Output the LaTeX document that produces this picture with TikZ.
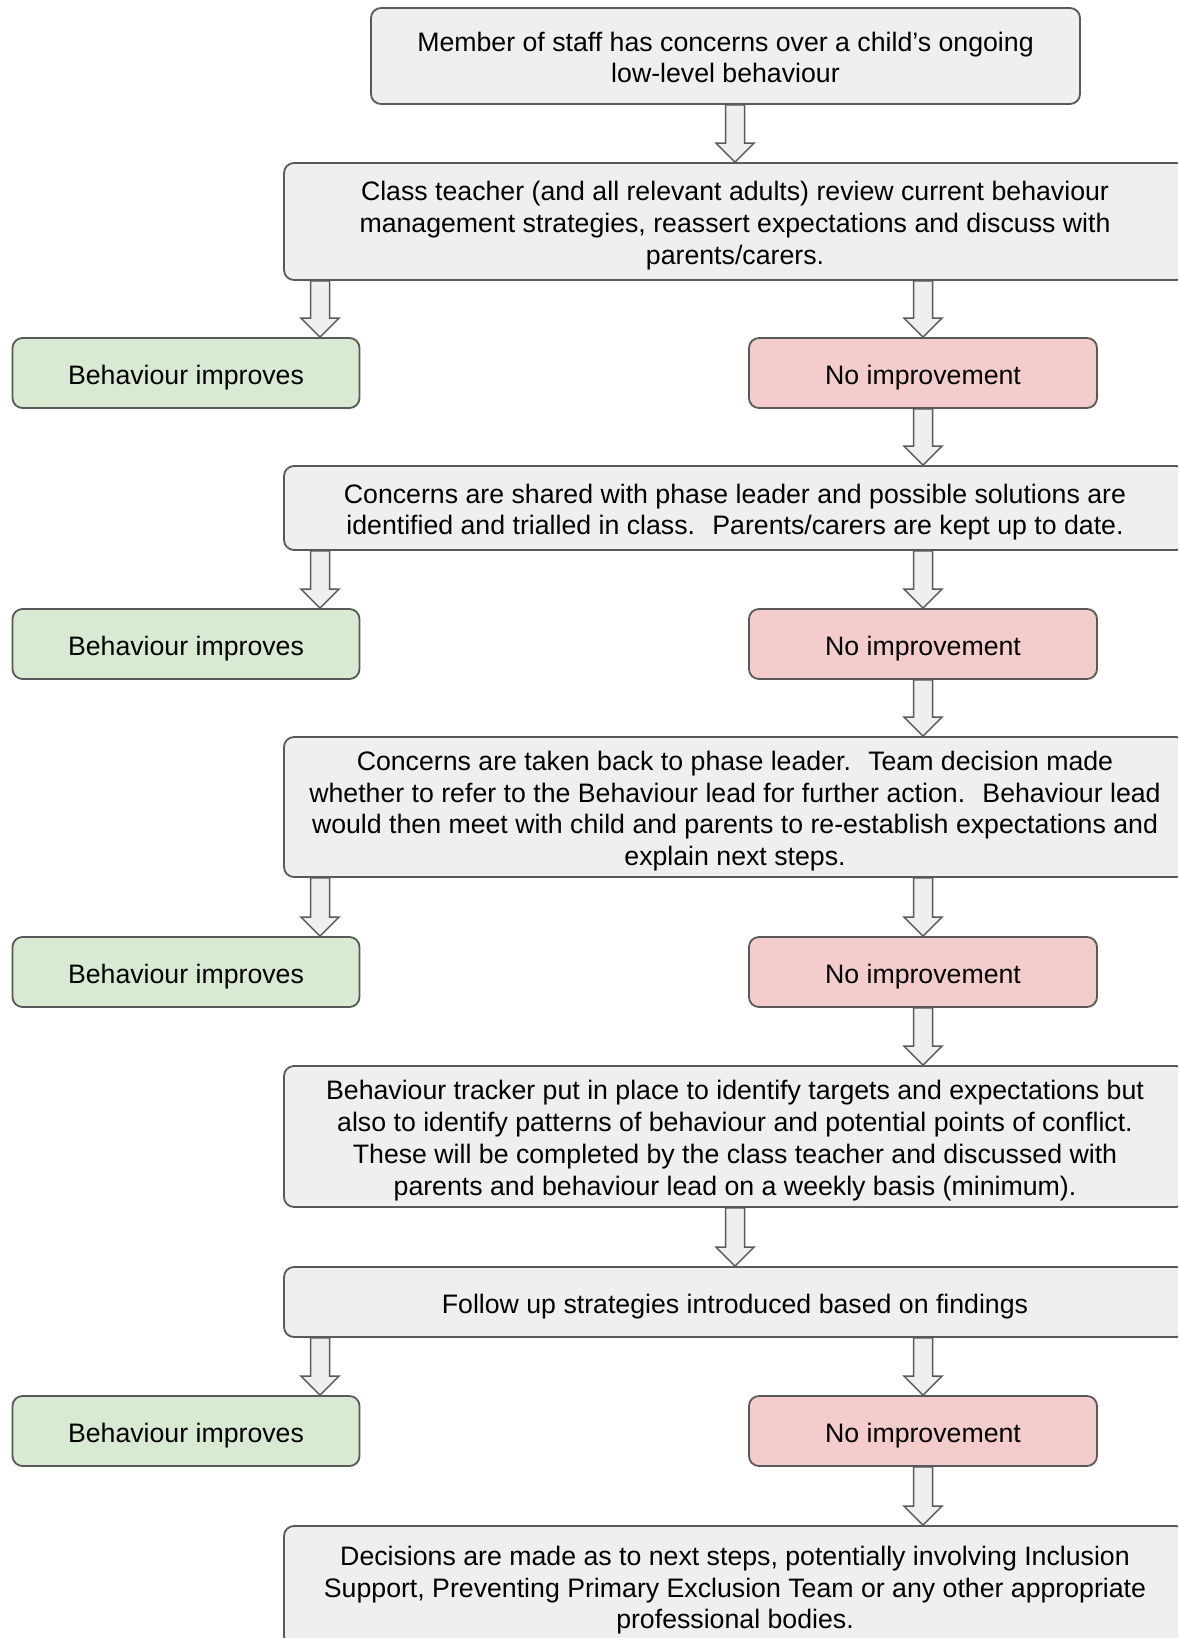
\documentclass[tikz,border=0pt]{standalone}
\usepackage{fontspec}
\setmainfont{Liberation Sans}
\usetikzlibrary{calc}
\definecolor{bd}{HTML}{595959}
\definecolor{grayfill}{HTML}{EFEFEF}
\definecolor{greenfill}{HTML}{D9EAD3}
\definecolor{redfill}{HTML}{F4CCCC}
\newcommand\boxfont{\fontsize{26.7}{31.8}\selectfont}
\newcommand\hs{\rule{0pt}{28pt}}
\tikzset{
  flowbox/.style={draw=bd, fill=grayfill, rounded corners=10pt, line width=1.8pt,
    align=center, inner sep=0pt, font=\boxfont, text=black,
    execute at begin node={\rule{0pt}{28pt}},
    execute at end node={\rule[-6pt]{0pt}{6pt}}},
  goodbox/.style={flowbox, fill=greenfill, minimum width=347pt, minimum height=70pt},
  badbox/.style={flowbox, fill=redfill, minimum width=348pt, minimum height=70pt},
  widebox/.style={flowbox, minimum width=902pt},
  barrow/.style={draw=bd, fill=grayfill, line width=1.5pt, line join=miter}
}
\newcommand\blockarrow[2]{%
  \draw[barrow] let \p1=(#1), \p2=(#2) in
    (\x2-9.5pt,\y1) -- (\x2+9.5pt,\y1) -- (\x2+9.5pt,\y2+19pt) -- (\x2+19pt,\y2+19pt)
    -- (\x2,\y2) -- (\x2-19pt,\y2+19pt) -- (\x2-9.5pt,\y2+19pt) -- cycle;}
\begin{document}
\begin{tikzpicture}[x=1pt,y=-1pt]
\path[use as bounding box] (0,0) rectangle (1178,1638);
\fill[white] (0,0) rectangle (1178,1638);
\clip (0,0) rectangle (1178,1638);
\coordinate (lx) at (320,0);

\node[flowbox, minimum width=709pt, minimum height=96pt] (b1) at (725.5,56)
  {\hs Member of staff has concerns over a child’s ongoing\\low-level behaviour};
\node[widebox, minimum height=117pt] (b2) at (735,221.5)
  {\hs Class teacher (and all relevant adults) review current behaviour\\management strategies, reassert expectations and discuss with\\parents/carers.};
\node[goodbox] (g1) at (186,373) {Behaviour improves};
\node[badbox] (r1) at (923,373) {No improvement};
\node[widebox, minimum height=84pt] (b3) at (735,508)
  {\hs Concerns are shared with phase leader and possible solutions are\\identified and trialled in class.~ Parents/carers are kept up to date.};
\node[goodbox] (g2) at (186,644) {Behaviour improves};
\node[badbox] (r2) at (923,644) {No improvement};
\node[widebox, minimum height=140pt] (b4) at (735,807)
  {\hs Concerns are taken back to phase leader.~ Team decision made\\whether to refer to the Behaviour lead for further action.~ Behaviour lead\\would then meet with child and parents to re-establish expectations and\\explain next steps.};
\node[goodbox] (g3) at (186,972) {Behaviour improves};
\node[badbox] (r3) at (923,972) {No improvement};
\node[widebox, minimum height=141pt] (b5) at (735,1136.5)
  {\hs Behaviour tracker put in place to identify targets and expectations but\\also to identify patterns of behaviour and potential points of conflict.\\These will be completed by the class teacher and discussed with\\parents and behaviour lead on a weekly basis (minimum).};
\node[widebox, minimum height=70pt] (b6) at (735,1302)
  {Follow up strategies introduced based on findings};
\node[goodbox] (g4) at (186,1431) {Behaviour improves};
\node[badbox] (r4) at (923,1431) {No improvement};
\node[widebox, minimum height=120pt] (b7) at (735,1586)
  {\hs Decisions are made as to next steps, potentially involving Inclusion\\Support, Preventing Primary Exclusion Team or any other appropriate\\professional bodies.};

\blockarrow{b1.south -| b2.north}{b2.north}
\blockarrow{b2.south -| lx}{g1.north -| lx}
\blockarrow{b2.south -| r1.north}{r1.north}
\blockarrow{r1.south}{b3.north -| r1.south}
\blockarrow{b3.south -| lx}{g2.north -| lx}
\blockarrow{b3.south -| r2.north}{r2.north}
\blockarrow{r2.south}{b4.north -| r2.south}
\blockarrow{b4.south -| lx}{g3.north -| lx}
\blockarrow{b4.south -| r3.north}{r3.north}
\blockarrow{r3.south}{b5.north -| r3.south}
\blockarrow{b5.south}{b6.north}
\blockarrow{b6.south -| lx}{g4.north -| lx}
\blockarrow{b6.south -| r4.north}{r4.north}
\blockarrow{r4.south}{b7.north -| r4.south}
\end{tikzpicture}
\end{document}
